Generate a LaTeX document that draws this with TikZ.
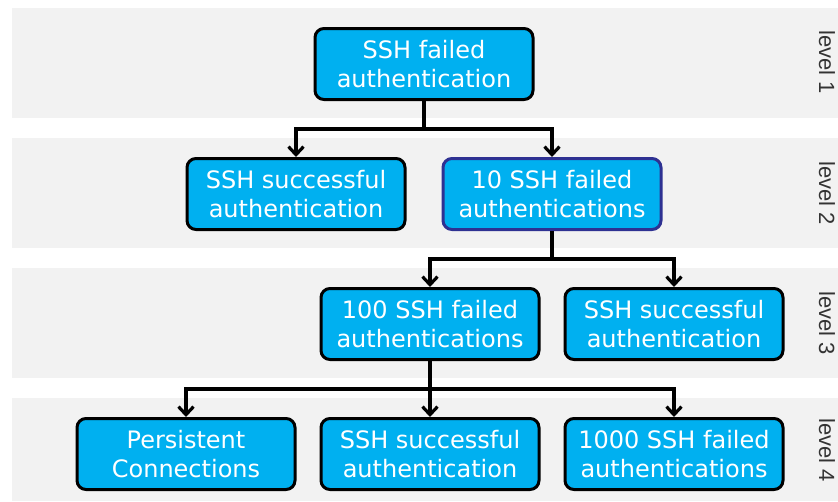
\documentclass[tikz,border=0pt]{standalone}
\usepackage{fontspec}
\usetikzlibrary{arrows.meta}

\newfontfamily\boxfont{DejaVu Sans}
\newfontfamily\levelfont{Liberation Sans}
\definecolor{boxblue}{HTML}{00B0F0}
\definecolor{bandgray}{HTML}{F2F2F2}
\definecolor{darkrim}{HTML}{2E3192}

\tikzset{
  authbox/.style={draw, line width=3pt, rounded corners=9pt, fill=boxblue,
    text=white, minimum width=218pt, minimum height=71pt, inner sep=2pt,
    align=center, font=\boxfont\fontsize{24}{29}\selectfont},
  levellabel/.style={rotate=-90, text=black!80, inner sep=0pt,
    font=\levelfont\fontsize{22}{26}\selectfont}
}

\begin{document}
\begin{tikzpicture}[x=1pt, y=1pt,
              level distance=130pt,
              level 1/.style={sibling distance=256pt},
              level 2/.style={sibling distance=244pt},
              level 3/.style={sibling distance=244pt},
              every child node/.style={authbox},
              edge from parent/.style={draw, line width=3.2pt,
                -{Straight Barb[length=8pt,width=15pt]}},
              edge from parent path={(\tikzparentnode.south) -- ++(0,-28pt)
                -| (\tikzchildnode.north)}
            ]
              \useasboundingbox (0,0) rectangle (838,-501);
              % gray bands behind the levels
              \foreach \top/\bot in {8/118,138/248,268/378,398/501}
                \fill[bandgray] (12,-\top) rectangle (838,-\bot);
              \foreach \i/\y in {1/62,2/193,3/323,4/450}
                \node[levellabel] (lev\i) at (827,-\y) {level \i};

              \node[authbox] (root) at (424,-64) {SSH failed\\authentication}
              child {node (okA) {SSH successful\\authentication}}
              child {node[draw=darkrim] (fail10) {10 SSH failed\\authentications}
                child {node (fail100) {100 SSH failed\\authentications}
                  child {node (persist) {Persistent\\Connections}}
                  child {node (okC) {SSH successful\\authentication}}
                  child {node (fail1000) {1000 SSH failed\\authentications}}
                }
                child {node (okB) {SSH successful\\authentication}}
              };
            \end{tikzpicture}
\end{document}
